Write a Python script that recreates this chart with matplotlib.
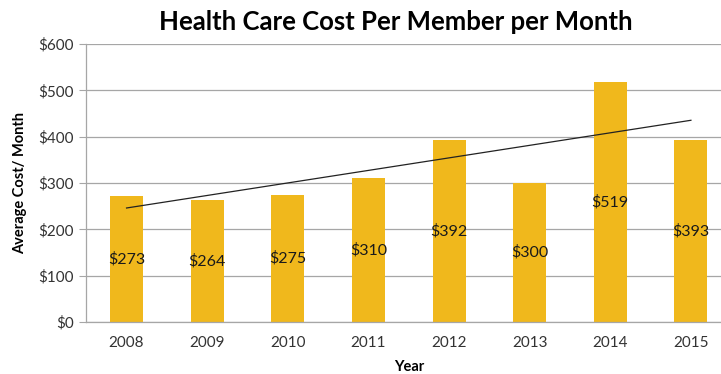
import matplotlib
matplotlib.use("Agg")
import matplotlib.pyplot as plt
import numpy as np

years = ["2008", "2009", "2010", "2011", "2012", "2013", "2014", "2015"]
cost = [273, 264, 275, 310, 392, 300, 519, 393]
y_ticks = [0, 100, 200, 300, 400, 500, 600]

plt.rcParams["font.family"] = ["Lato", "DejaVu Sans"]

fig = plt.figure(figsize=(7.21, 3.74), dpi=100)
ax = fig.add_axes([0.1196, 0.139, 0.8946, 0.7433])

x = np.arange(len(years))
bar_color = "#F0B81C"
ax.bar(x, cost, width=0.41, color=bar_color, zorder=2)

# data labels centered in each bar
for xi, v in zip(x, cost):
    ax.text(xi, v / 2, f"${v}", ha="center", va="center", fontsize=11.5,
            color="#1a1a1a", zorder=4)

# linear trendline
slope, intercept = np.polyfit(x, cost, 1)
ax.plot([x[0], x[-1]], [intercept, intercept + slope * x[-1]],
        color="#222222", lw=0.9, zorder=3)

ax.set_xlim(-0.5, len(years) - 0.5)
ax.set_ylim(0, 600)
ax.set_yticks(y_ticks)
ax.set_yticklabels([f"${t}" for t in y_ticks])
ax.set_xticks(x)
ax.set_xticklabels(years)
ax.yaxis.grid(True, color="#a6a6a6", lw=0.9, zorder=0)
ax.set_axisbelow(True)

for s in ["top", "right"]:
    ax.spines[s].set_visible(False)
for s in ["left", "bottom"]:
    ax.spines[s].set_color("#a6a6a6")
    ax.spines[s].set_linewidth(0.9)

ax.tick_params(axis="y", length=5, color="#a6a6a6", labelsize=11,
               labelcolor="#333333", pad=4)
ax.tick_params(axis="x", length=0, labelsize=11, labelcolor="#333333", pad=10)

ax.set_ylabel("Average Cost/ Month", fontsize=10.5, fontweight="bold", labelpad=8)
ax.set_xlabel("Year", fontsize=10.5, fontweight="bold", labelpad=7)

fig.text(0.549, 1 - 22 / 374, "Health Care Cost Per Member per Month",
         ha="center", va="center", fontsize=18.5, fontweight="bold")

fig.savefig("out.png", dpi=100)
